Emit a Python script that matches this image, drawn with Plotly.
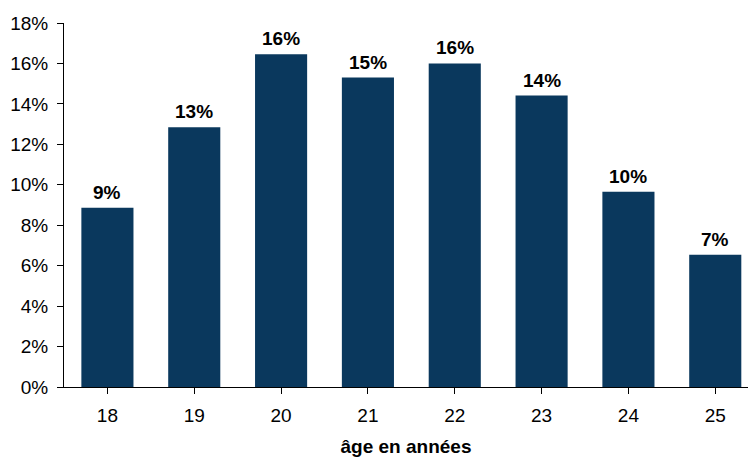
import plotly.graph_objects as go

# Share of respondents by age (in years)
ages = ["18", "19", "20", "21", "22", "23", "24", "25"]
shares = [8.87, 12.84, 16.45, 15.30, 16.00, 14.41, 9.66, 6.54]
y_ticks = [0, 2, 4, 6, 8, 10, 12, 14, 16, 18]
y_tick_labels = [f"{v}%" for v in y_ticks]

BAR = "#0A385D"
FONT = "Liberation Sans, Arial, sans-serif"

fig = go.Figure(
    go.Bar(
        x=list(range(len(ages))),
        y=shares,
        marker=dict(color=BAR, line=dict(width=0)),
        width=0.6,
        hoverinfo="skip",
    )
)

# value labels above each bar
for i, v in enumerate(shares):
    fig.add_annotation(
        x=i, y=v, text=f"<b>{round(v):.0f}%</b>",
        showarrow=False, yanchor="bottom", yshift=3,
        font=dict(family=FONT, size=19, color="#000000"),
    )

fig.update_layout(
    width=748, height=457,
    margin=dict(l=64, r=0, t=23, b=70),
    paper_bgcolor="white", plot_bgcolor="white",
    showlegend=False,
    font=dict(family=FONT, size=19, color="#000000"),
    xaxis=dict(
        range=[-0.5, 7.377],
        tickmode="array",
        tickvals=list(range(len(ages))),
        ticktext=ages,
        showline=True, linecolor="#000000", linewidth=1,
        ticks="outside", ticklen=6, tickcolor="#000000",
        tickson="boundaries",
        ticklabelstandoff=5,
        showgrid=False, zeroline=False,
        title=dict(text="<b>âge en années</b>", standoff=16,
                   font=dict(family=FONT, size=19)),
        fixedrange=True,
    ),
    yaxis=dict(
        range=[0, 18],
        tickmode="array",
        tickvals=y_ticks,
        ticktext=y_tick_labels,
        showline=True, linecolor="#000000", linewidth=1,
        ticks="outside", ticklen=6, tickcolor="#000000",
        ticklabelstandoff=5,
        showgrid=False, zeroline=False,
        fixedrange=True,
    ),
)

fig.write_html("out.html")
